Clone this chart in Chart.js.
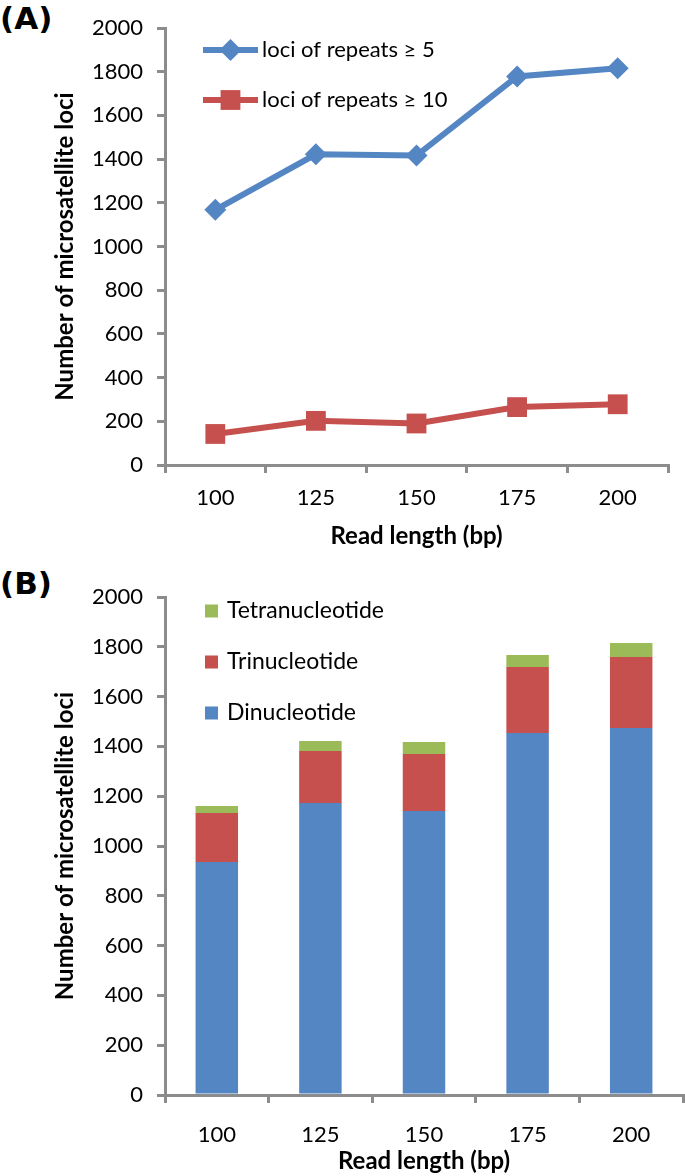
<!DOCTYPE html>
<html>
<head>
<meta charset="utf-8">
<script src="https://cdn.jsdelivr.net/npm/chart.js@4"></script>
<style>
  body { margin:0; background:#fff; width:685px; height:1176px; position:relative; overflow:hidden; font-family:Lato, sans-serif; }
  canvas { position:absolute; left:0; }
  .tag { position:absolute; left:0; font:bold 31px "DejaVu Sans", sans-serif; color:#000; line-height:36px; }
</style>
</head>
<body>
<div class="tag" style="top:0px">(A)</div>
<canvas id="chartA" width="685" height="560" style="top:0"></canvas>
<div class="tag" style="top:565px">(B)</div>
<canvas id="chartB" width="685" height="616" style="top:560px"></canvas>
<script>
// 읽기 길이
const readLengths = ["100", "125", "150", "175", "200"];
// (A) 반복 수별 loci
const repeats5 = [1168, 1422, 1416, 1778, 1816];
const repeats10 = [142, 202, 190, 265, 278];
// (B) 모티프 종류별 loci
const dinucleotide = [936, 1173, 1141, 1454, 1474];
const trinucleotide = [197, 209, 228, 265, 285];
const tetranucleotide = [28, 40, 49, 48, 56];
const yMin = 0, yMax = 2000, yStep = 200;

const BLUE = "#5586C4", RED = "#C6504D", GREEN = "#9BBB59", AXIS = "#8c8c8c";
Chart.defaults.font.family = "Lato, sans-serif";
Chart.defaults.color = "#000";

// 차트 영역 안쪽 범례
const inlineLegend = {
    id: "inlineLegend",
    afterDraw: function(chart, args, opts){
        let ctx = chart.ctx;
        ctx.save();
        ctx.font = opts.fontSize + "px Lato, sans-serif";
        ctx.textBaseline = "middle";
        ctx.fillStyle = "#000";
        opts.order.forEach(function(idx, i){
            let ds = chart.data.datasets[idx];
            let y = opts.y + i * opts.gap;
            if(opts.kind === "line"){
                ctx.strokeStyle = ds.borderColor;
                ctx.lineWidth = ds.borderWidth;
                ctx.beginPath();
                ctx.moveTo(opts.x, y);
                ctx.lineTo(opts.x + opts.lineLen, y);
                ctx.stroke();
                ctx.fillStyle = ds.borderColor;
                Chart.helpers.drawPoint(ctx, {pointStyle: ds.pointStyle, radius: ds.pointRadius, borderWidth: 0}, opts.x + opts.lineLen / 2, y);
                ctx.fillStyle = "#000";
                ctx.fillText(ds.label, opts.x + opts.lineLen + 4, y);
            } else {
                ctx.fillStyle = ds.backgroundColor;
                ctx.fillRect(opts.x, y - opts.box / 2, opts.box, opts.box);
                ctx.fillStyle = "#000";
                ctx.fillText(ds.label, opts.x + opts.box + 9, y);
            }
        });
        ctx.restore();
    }
};

let axisY = function(width, tickPad){
    return {
        min: yMin, max: yMax,
        ticks: {stepSize: yStep, font: {size: 22}, padding: tickPad, callback: function(v){ return String(v); }},
        grid: {drawOnChartArea: false, color: AXIS, lineWidth: 3, tickLength: 8},
        border: {color: AXIS, width: 3},
        title: {display: true, text: "Number of microsatellite loci", font: {size: 24, weight: "bold"}, padding: {top: 0, bottom: 2}},
        afterFit: function(scale){ scale.width = width; }
    };
};
let axisX = function(height, tickPad, titlePad, stacked){
    return {
        stacked: stacked,
        offset: true,
        ticks: {font: {size: 22}, padding: tickPad},
        grid: {offset: true, drawOnChartArea: false, color: AXIS, lineWidth: 3, tickLength: 8},
        border: {color: AXIS, width: 3},
        title: {display: true, text: "Read length (bp)", font: {size: 24, weight: "bold"}, padding: {top: 0, bottom: titlePad}},
        afterFit: function(scale){ scale.height = height; }
    };
};

new Chart(document.getElementById("chartA").getContext("2d"), {
    type: "line",
    data: {
        labels: readLengths,
        datasets: [{
            label: "loci of repeats \u2265 5",
            data: repeats5,
            borderColor: BLUE, backgroundColor: BLUE, borderWidth: 6,
            pointStyle: "rectRot", pointRadius: 11, pointBorderWidth: 0
        },{
            label: "loci of repeats \u2265 10",
            data: repeats10,
            borderColor: RED, backgroundColor: RED, borderWidth: 6,
            pointStyle: "rect", pointRadius: 14, pointBorderWidth: 0
        }]
    },
    options: {
        responsive: false, animation: false, devicePixelRatio: 1,
        layout: {padding: {left: 51, top: 28, right: 17, bottom: 0}},
        scales: {x: axisX(95, 12, 9, false), y: axisY(114, 14)},
        plugins: {
            legend: {display: false}, tooltip: {enabled: false},
            inlineLegend: {kind: "line", order: [0, 1], x: 203, y: 50, gap: 50, lineLen: 55, fontSize: 22}
        }
    },
    plugins: [inlineLegend]
});

new Chart(document.getElementById("chartB").getContext("2d"), {
    type: "bar",
    data: {
        labels: readLengths,
        datasets: [
            {label: "Dinucleotide", data: dinucleotide, backgroundColor: BLUE},
            {label: "Trinucleotide", data: trinucleotide, backgroundColor: RED},
            {label: "Tetranucleotide", data: tetranucleotide, backgroundColor: GREEN}
        ]
    },
    options: {
        responsive: false, animation: false, devicePixelRatio: 1,
        datasets: {bar: {barPercentage: 0.41, categoryPercentage: 1, borderWidth: 0}},
        layout: {padding: {left: 51, top: 37, right: 2, bottom: 0}},
        scales: {x: axisX(81, 19, 0, true), y: Object.assign(axisY(114, 14), {stacked: true})},
        plugins: {
            legend: {display: false}, tooltip: {enabled: false},
            inlineLegend: {kind: "box", order: [2, 1, 0], x: 205, y: 51, gap: 51, box: 13, fontSize: 23}
        }
    },
    plugins: [inlineLegend]
});
</script>
</body>
</html>
